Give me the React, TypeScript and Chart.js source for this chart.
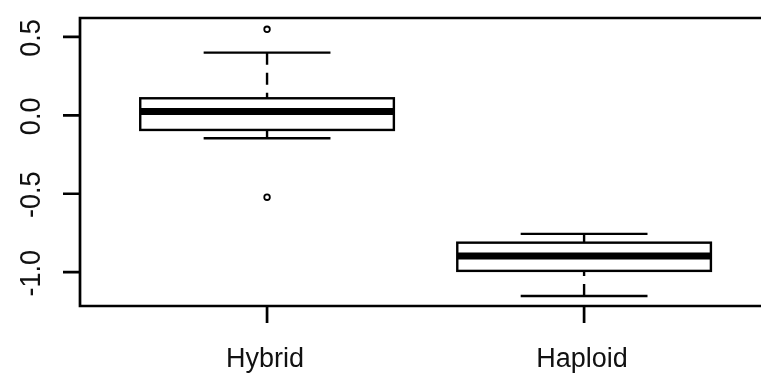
import React, { useEffect, useRef } from "react";
import { Chart, registerables } from "chart.js";

Chart.register(...registerables);

const categories = ["Hybrid", "Haploid"];
const positions = [1, 2];
const whiskerLow = [-0.146, -1.152];
const q1 = [-0.093, -0.992];
const median = [0.024, -0.897];
const q3 = [0.109, -0.812];
const whiskerHigh = [0.4, -0.756];
const outliers: number[][] = [[0.549, -0.522], []];
const yTicks = [-1.0, -0.5, 0.0, 0.5];
const yTickLabels = ["-1.0", "-0.5", "0.0", "0.5"];
const xLimits = [0.41, 2.558];
const yLimits = [-1.216, 0.621];
const boxWex = 0.8;
const stapleWex = 0.5;

const FONT = "'Liberation Sans', Arial, sans-serif";

const boxPlugin = {
  id: "rbox",
  afterDatasetsDraw(chart: any) {
    const ctx = chart.ctx;
    const xs = chart.scales.x;
    const ys = chart.scales.y;
    ctx.save();
    ctx.strokeStyle = "#000";
    ctx.lineCap = "butt";
    for (let i = 0; i < categories.length; i++) {
      const cx = xs.getPixelForValue(positions[i]);
      const left = xs.getPixelForValue(positions[i] - boxWex / 2);
      const right = xs.getPixelForValue(positions[i] + boxWex / 2);
      const sl = xs.getPixelForValue(positions[i] - (boxWex * stapleWex) / 2);
      const sr = xs.getPixelForValue(positions[i] + (boxWex * stapleWex) / 2);
      const yLo = ys.getPixelForValue(whiskerLow[i]);
      const yQ1 = ys.getPixelForValue(q1[i]);
      const yMed = ys.getPixelForValue(median[i]);
      const yQ3 = ys.getPixelForValue(q3[i]);
      const yHi = ys.getPixelForValue(whiskerHigh[i]);

      // whiskers (dashed), drawn from whisker end to hinge
      ctx.lineWidth = 2.4;
      ctx.setLineDash([12, 8]);
      ctx.beginPath();
      ctx.moveTo(cx, yHi);
      ctx.lineTo(cx, yQ3);
      ctx.moveTo(cx, yLo);
      ctx.lineTo(cx, yQ1);
      ctx.stroke();
      ctx.setLineDash([]);

      // staples
      ctx.lineWidth = 2.4;
      ctx.beginPath();
      ctx.moveTo(sl, yHi);
      ctx.lineTo(sr, yHi);
      ctx.moveTo(sl, yLo);
      ctx.lineTo(sr, yLo);
      ctx.stroke();

      // box
      ctx.fillStyle = "#fff";
      ctx.fillRect(left, yQ3, right - left, yQ1 - yQ3);
      ctx.lineWidth = 2.4;
      ctx.strokeRect(left, yQ3, right - left, yQ1 - yQ3);

      // median
      ctx.lineWidth = 7;
      ctx.beginPath();
      ctx.moveTo(left, yMed);
      ctx.lineTo(right, yMed);
      ctx.stroke();
    }
    ctx.restore();
  },
  afterDraw(chart: any) {
    const ctx = chart.ctx;
    const xs = chart.scales.x;
    const ys = chart.scales.y;
    const a = chart.chartArea;
    ctx.save();
    ctx.strokeStyle = "#000";
    ctx.lineWidth = 2.7;
    // frame (right side is outside the view)
    ctx.beginPath();
    ctx.moveTo(chart.width + 5, a.top);
    ctx.lineTo(a.left, a.top);
    ctx.lineTo(a.left, a.bottom);
    ctx.lineTo(chart.width + 5, a.bottom);
    ctx.stroke();

    // y ticks
    ctx.beginPath();
    for (const v of yTicks) {
      const py = ys.getPixelForValue(v);
      ctx.moveTo(a.left - 17, py);
      ctx.lineTo(a.left, py);
    }
    // x ticks
    for (const p of positions) {
      const px = xs.getPixelForValue(p);
      ctx.moveTo(px, a.bottom);
      ctx.lineTo(px, a.bottom + 17);
    }
    ctx.stroke();

    ctx.fillStyle = "#111";
    ctx.font = `27px ${FONT}`;
    // x labels
    ctx.textAlign = "center";
    ctx.textBaseline = "alphabetic";
    for (let i = 0; i < categories.length; i++) {
      const px = xs.getPixelForValue(positions[i]);
      ctx.fillText(categories[i], px - 2, a.bottom + 61);
    }
    // y labels (rotated, reading bottom to top)
    for (let i = 0; i < yTicks.length; i++) {
      const py = ys.getPixelForValue(yTicks[i]);
      ctx.save();
      ctx.translate(32, py + 1);
      ctx.rotate(-Math.PI / 2);
      ctx.scale(1, 1.12);
      ctx.textAlign = "center";
      ctx.textBaseline = "middle";
      ctx.fillText(yTickLabels[i], 0, 0);
      ctx.restore();
    }
    ctx.restore();
  },
};

export default function App() {
  const ref = useRef<HTMLCanvasElement | null>(null);
  useEffect(() => {
    document.body.style.margin = "0";
    document.body.style.background = "#fff";
    const canvas = ref.current!;
    const outlierPoints: { x: number; y: number }[] = [];
    outliers.forEach((arr, i) => arr.forEach((v) => outlierPoints.push({ x: positions[i], y: v })));
    const chart = new Chart(canvas, {
      type: "scatter",
      data: {
        datasets: [
          {
            data: outlierPoints,
            pointStyle: "circle",
            pointRadius: 2.8,
            pointBorderWidth: 1.8,
            pointBackgroundColor: "#fff",
            pointBorderColor: "#000",
          } as any,
        ],
      },
      options: {
        animation: false,
        responsive: false,
        layout: { autoPadding: false, padding: { left: 80, top: 18, right: 0, bottom: 69 } },
        scales: {
          x: { type: "linear", min: xLimits[0], max: xLimits[1], display: false },
          y: { type: "linear", min: yLimits[0], max: yLimits[1], display: false },
        },
        plugins: { legend: { display: false }, tooltip: { enabled: false } },
      },
      plugins: [boxPlugin],
    });
    return () => chart.destroy();
  }, []);
  return (
    <div style={{ width: 761, height: 375, overflow: "hidden", background: "#fff" }}>
      <canvas ref={ref} width={761} height={375} />
    </div>
  );
}
